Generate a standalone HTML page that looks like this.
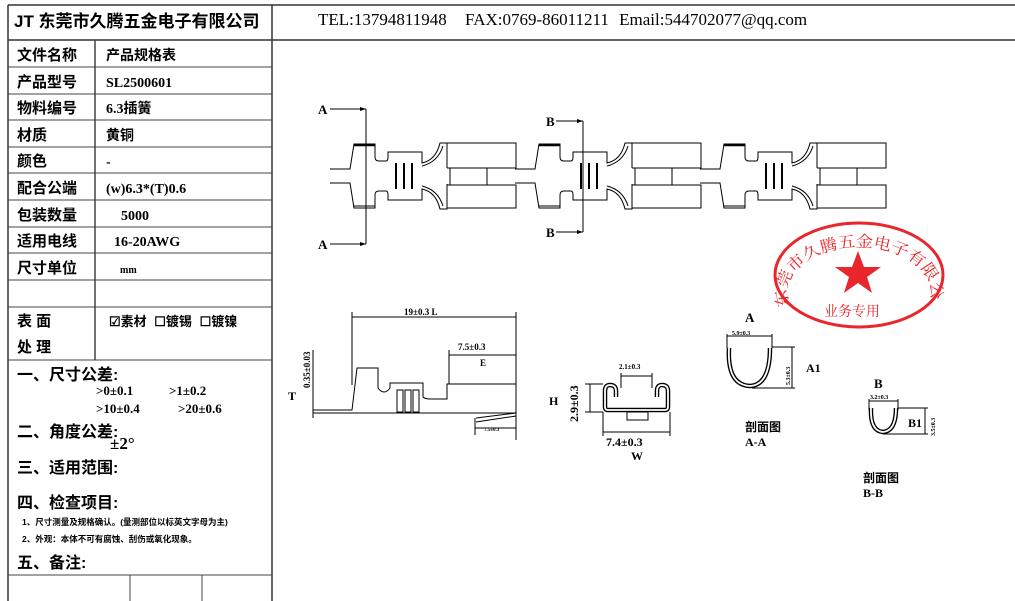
<!DOCTYPE html>
<html><head><meta charset="utf-8"><style>
html,body{margin:0;padding:0;background:#fff;}
svg{display:block;}
text{font-family:"Liberation Serif","Noto Serif CJK SC","Noto Sans CJK SC",serif;fill:#000;}
.b,.b text{font-weight:bold;}
.cj,.cj text,text.cj,tspan.cj{font-family:"Liberation Sans","Noto Sans CJK SC",sans-serif;font-weight:bold;}
</style></head><body>
<svg width="1015" height="601" viewBox="0 0 1015 601" xmlns="http://www.w3.org/2000/svg">
<defs>
<g id="unit" fill="none" stroke="#000" stroke-width="1">
  <path d="M330,169 L350,169 L354,144 L375,144 L375,157 Q375,161 379,161 L386,161 Q388,161 388,157 L388,152 L422,152 L422,163 Q436,160 440,143 L447,143 L447,168"/>
  <path d="M330,183 L350,183 L354,208 L375,208 L375,195 Q375,191 379,191 L386,191 Q388,191 388,195 L388,200 L422,200 L422,189 Q436,192 440,209 L447,209 L447,184"/>
  <path d="M422,166 Q438,162 443,146" />
  <path d="M422,186 Q438,190 443,206" />
  <line x1="354" y1="145" x2="375" y2="145" stroke-width="2.5"/>
  <line x1="354" y1="206" x2="375" y2="206"/>
  <path d="M447,143 L516,143 L516,168 L447,168"/>
  <path d="M447,185 L516,185 L516,208 L447,208"/>
  <line x1="450" y1="168" x2="450" y2="185"/>
  <line x1="487" y1="168" x2="487" y2="185"/>
  <line x1="396" y1="163" x2="396" y2="189" stroke-width="2"/>
  <line x1="404" y1="163" x2="404" y2="189" stroke-width="2"/>
  <line x1="412" y1="163" x2="412" y2="189" stroke-width="2"/>
</g>
</defs>
<!-- frame -->
<g stroke="#333" stroke-width="1.5" fill="none">
<line x1="8" y1="5" x2="1015" y2="5"/>
<line x1="8" y1="40" x2="1015" y2="40"/>
<line x1="8" y1="5" x2="8" y2="601"/>
<line x1="272" y1="5" x2="272" y2="601"/>
</g>
<g stroke="#444" stroke-width="1" fill="none">
<line x1="8" y1="67" x2="272" y2="67"/><line x1="8" y1="94" x2="272" y2="94"/>
<line x1="8" y1="120" x2="272" y2="120"/><line x1="8" y1="147" x2="272" y2="147"/>
<line x1="8" y1="173" x2="272" y2="173"/><line x1="8" y1="200" x2="272" y2="200"/>
<line x1="8" y1="227" x2="272" y2="227"/><line x1="8" y1="253" x2="272" y2="253"/>
<line x1="8" y1="280" x2="272" y2="280"/><line x1="8" y1="307" x2="272" y2="307"/>
<line x1="8" y1="360" x2="272" y2="360"/><line x1="8" y1="575" x2="272" y2="575"/>
<line x1="95" y1="40" x2="95" y2="360" stroke-width="1.5"/>
<line x1="130" y1="575" x2="130" y2="601"/><line x1="202" y1="575" x2="202" y2="601"/>
</g>
<text x="14" y="27" class="cj" font-size="17">JT 东莞市久腾五金电子有限公司</text>
<g class="cj" font-size="15">
<text x="17" y="60">文件名称</text><text x="17" y="87">产品型号</text><text x="17" y="113">物料编号</text>
<text x="17" y="140">材质</text><text x="17" y="166">颜色</text><text x="17" y="193">配合公端</text>
<text x="17" y="220">包装数量</text><text x="17" y="246">适用电线</text><text x="17" y="273">尺寸单位</text>
<text x="17" y="326">表 面</text><text x="17" y="352">处 理</text>
</g>
<g class="b" font-size="14">
<text x="106" y="60" class="cj">产品规格表</text>
<text x="106" y="87">SL2500601</text>
<text x="106" y="113">6.3<tspan class="cj">插簧</tspan></text>
<text x="106" y="140" class="cj">黄铜</text>
<text x="106" y="166">-</text>
<text x="106" y="193">(w)6.3*(T)0.6</text>
<text x="121" y="220">5000</text>
<text x="114" y="246">16-20AWG</text>
<text x="120" y="273" font-size="10">mm</text>
</g>
<text x="109" y="326" class="cj" font-size="13">☑素材 <tspan dx="4">☐镀锡</tspan> <tspan dx="4">☐镀镍</tspan></text>
<g class="cj" font-size="16">
<text x="17" y="380">一、尺寸公差:</text>
<text x="17" y="437">二、角度公差:</text>
<text x="17" y="473">三、适用范围:</text>
<text x="17" y="508">四、检查项目:</text>
<text x="17" y="568">五、备注:</text>
</g>
<g class="b" font-size="13">
<text x="96" y="395">&gt;0±0.1</text><text x="169" y="395">&gt;1±0.2</text>
<text x="96" y="413">&gt;10±0.4</text><text x="178" y="413">&gt;20±0.6</text>
</g>
<text x="110" y="449" font-size="17" class="b">±2°</text>
<text x="22" y="525" class="cj" font-size="8.5">1、尺寸测量及规格确认。(量测部位以标英文字母为主)</text>
<text x="22" y="542" class="cj" font-size="8.5">2、外观：本体不可有腐蚀、刮伤或氧化现象。</text>
<text x="318" y="25" font-size="17">TEL:13794811948 <tspan dx="14">FAX:0769-86011211</tspan> <tspan dx="6">Email:544702077@qq.com</tspan></text>

<!-- strip -->
<use href="#unit"/>
<use href="#unit" transform="translate(185,0)"/>
<use href="#unit" transform="translate(370,0)"/>
<g stroke="#000" fill="none" stroke-width="1">
<line x1="330" y1="109" x2="366" y2="109"/><line x1="366" y1="109" x2="366" y2="244"/><line x1="330" y1="244" x2="366" y2="244"/>
<line x1="556" y1="121" x2="583" y2="121"/><line x1="583" y1="121" x2="583" y2="232"/><line x1="556" y1="232" x2="583" y2="232"/>
</g>
<g fill="#000"><path d="M366,109 l-6,-2 v4z"/><path d="M366,244 l-6,-2 v4z"/><path d="M583,121 l-6,-2 v4z"/><path d="M583,232 l-6,-2 v4z"/></g>
<g class="b" font-size="13"><text x="318" y="114">A</text><text x="318" y="249">A</text><text x="546" y="126">B</text><text x="546" y="237">B</text></g>

<!-- side view -->
<g stroke="#000" fill="none" stroke-width="1">
<path d="M313,410 L352,410 L357,368 L378,368 L378,388 Q384,396 390,388 L390,383 L423,383 L423,397 Q425,399 430,399 L447,399 L447,384 L516,384 L516,410"/>
<line x1="313" y1="413" x2="516" y2="413"/>
<rect x="397" y="390" width="6" height="22"/><rect x="405" y="390" width="6" height="22"/><rect x="413" y="390" width="6" height="22"/>
<line x1="352" y1="312" x2="352" y2="385"/><line x1="516" y1="312" x2="516" y2="440"/>
<line x1="352" y1="317" x2="516" y2="317"/>
<line x1="449" y1="350" x2="449" y2="384"/><line x1="449" y1="355" x2="516" y2="355"/>
<path d="M476,418 L516,413 M476,422 L516,416"/>
<line x1="475" y1="418" x2="475" y2="435"/><line x1="475" y1="428" x2="516" y2="428"/>
<line x1="313" y1="350" x2="313" y2="418"/>
</g>
<g class="b" font-size="9"><text x="404" y="315">19±0.3  L</text><text x="458" y="350">7.5±0.3</text><text x="480" y="366">E</text><text x="484" y="431" font-size="5">7.5±0.3</text></g>
<text x="310" y="388" font-size="9" class="b" transform="rotate(-90 310 388)">0.35±0.03</text>
<text x="288" y="400" class="b" font-size="12">T</text>

<!-- cross section W -->
<path d="M616,397 L616,391 Q616,385 610,385 Q605,385 605,391 L605,407 Q605,410 608,410 L665,410 Q668,410 668,407 L668,391 Q668,385 662,385 Q657,385 657,391 L657,397" fill="none" stroke="#000" stroke-width="4.5"/>
<path d="M616,397 L616,391 Q616,385 610,385 Q605,385 605,391 L605,407 Q605,410 608,410 L665,410 Q668,410 668,407 L668,391 Q668,385 662,385 Q657,385 657,391 L657,397" fill="none" stroke="#fff" stroke-width="1.8"/>
<g stroke="#000" fill="none" stroke-width="1">
<rect x="627" y="412" width="21" height="8"/>
<line x1="621" y1="388" x2="621" y2="373"/><line x1="652" y1="388" x2="652" y2="373"/><line x1="621" y1="376" x2="652" y2="376"/>
<line x1="585" y1="384" x2="603" y2="384"/><line x1="585" y1="412" x2="603" y2="412"/><line x1="590" y1="384" x2="590" y2="412"/>
<line x1="603" y1="412" x2="603" y2="436"/><line x1="670" y1="412" x2="670" y2="436"/><line x1="603" y1="432" x2="670" y2="432"/>
</g>
<text x="619" y="369" class="b" font-size="7">2.1±0.3</text>
<text x="578" y="422" class="b" font-size="12" transform="rotate(-90 578 422)">2.9±0.3</text>
<text x="549" y="405" class="b" font-size="12">H</text>
<text x="606" y="446" class="b" font-size="12">7.4±0.3</text>
<text x="631" y="460" class="b" font-size="12">W</text>

<!-- stamp -->
<g>
<ellipse cx="859" cy="275" rx="84" ry="52" fill="none" stroke="#e8262b" stroke-width="3"/>
<path id="arc" d="M790,306 A72,46 0 1 1 928,306" fill="none"/>
<text font-size="16" style="fill:#e8262b;font-family:'Noto Serif CJK SC',serif"><textPath href="#arc" startOffset="0" textLength="225" lengthAdjust="spacingAndGlyphs">东莞市久腾五金电子有限公司</textPath></text>
<path d="M858,251 L864,267 L881,267 L867,277 L872,293 L858,283 L844,293 L849,277 L835,267 L852,267Z" fill="#e8262b"/>
<text x="824" y="316" font-size="14" style="fill:#e8262b;font-family:'Noto Serif CJK SC',serif">业务专用</text>
</g>

<!-- section A -->
<path d="M729,348 Q727,385 750,386 Q770,385 770,348" fill="none" stroke="#000" stroke-width="4.5"/>
<path d="M729,348 Q727,385 750,386 Q770,385 770,348" fill="none" stroke="#fff" stroke-width="1.8"/>
<g stroke="#000" fill="none" stroke-width="1">
<line x1="727" y1="336" x2="772" y2="336"/>
<line x1="727" y1="334" x2="727" y2="348"/><line x1="772" y1="334" x2="772" y2="348"/>
<line x1="772" y1="347" x2="795" y2="347"/><line x1="752" y1="388" x2="795" y2="388"/>
<line x1="792" y1="347" x2="792" y2="388"/>
</g>
<text x="745" y="322" class="b" font-size="13">A</text>
<text x="732" y="335" class="b" font-size="6">5.9±0.3</text>
<text x="790" y="385" class="b" font-size="6" transform="rotate(-90 790 385)">5.3±0.3</text>
<text x="806" y="372" class="b" font-size="12">A1</text>
<text x="745" y="431" class="cj" font-size="12">剖面图</text>
<text x="745" y="446" class="b" font-size="12">A-A</text>

<!-- section B -->
<path d="M871,408 Q870,431 883,432 Q896,431 896,408" fill="none" stroke="#000" stroke-width="4.5"/>
<path d="M871,408 Q870,431 883,432 Q896,431 896,408" fill="none" stroke="#fff" stroke-width="1.8"/>
<g stroke="#000" fill="none" stroke-width="1">
<line x1="869" y1="401" x2="898" y2="401"/>
<line x1="869" y1="399" x2="869" y2="410"/><line x1="898" y1="399" x2="898" y2="410"/>
<line x1="898" y1="408" x2="928" y2="408"/><line x1="883" y1="434" x2="928" y2="434"/>
<line x1="925" y1="408" x2="925" y2="434"/>
</g>
<text x="874" y="388" class="b" font-size="13">B</text>
<text x="870" y="399" class="b" font-size="6">3.2±0.3</text>
<text x="935" y="436" class="b" font-size="6" transform="rotate(-90 935 436)">3.5±0.3</text>
<text x="908" y="427" class="b" font-size="12">B1</text>
<text x="863" y="482" class="cj" font-size="12">剖面图</text>
<text x="863" y="497" class="b" font-size="12">B-B</text>
</svg>
</body></html>
